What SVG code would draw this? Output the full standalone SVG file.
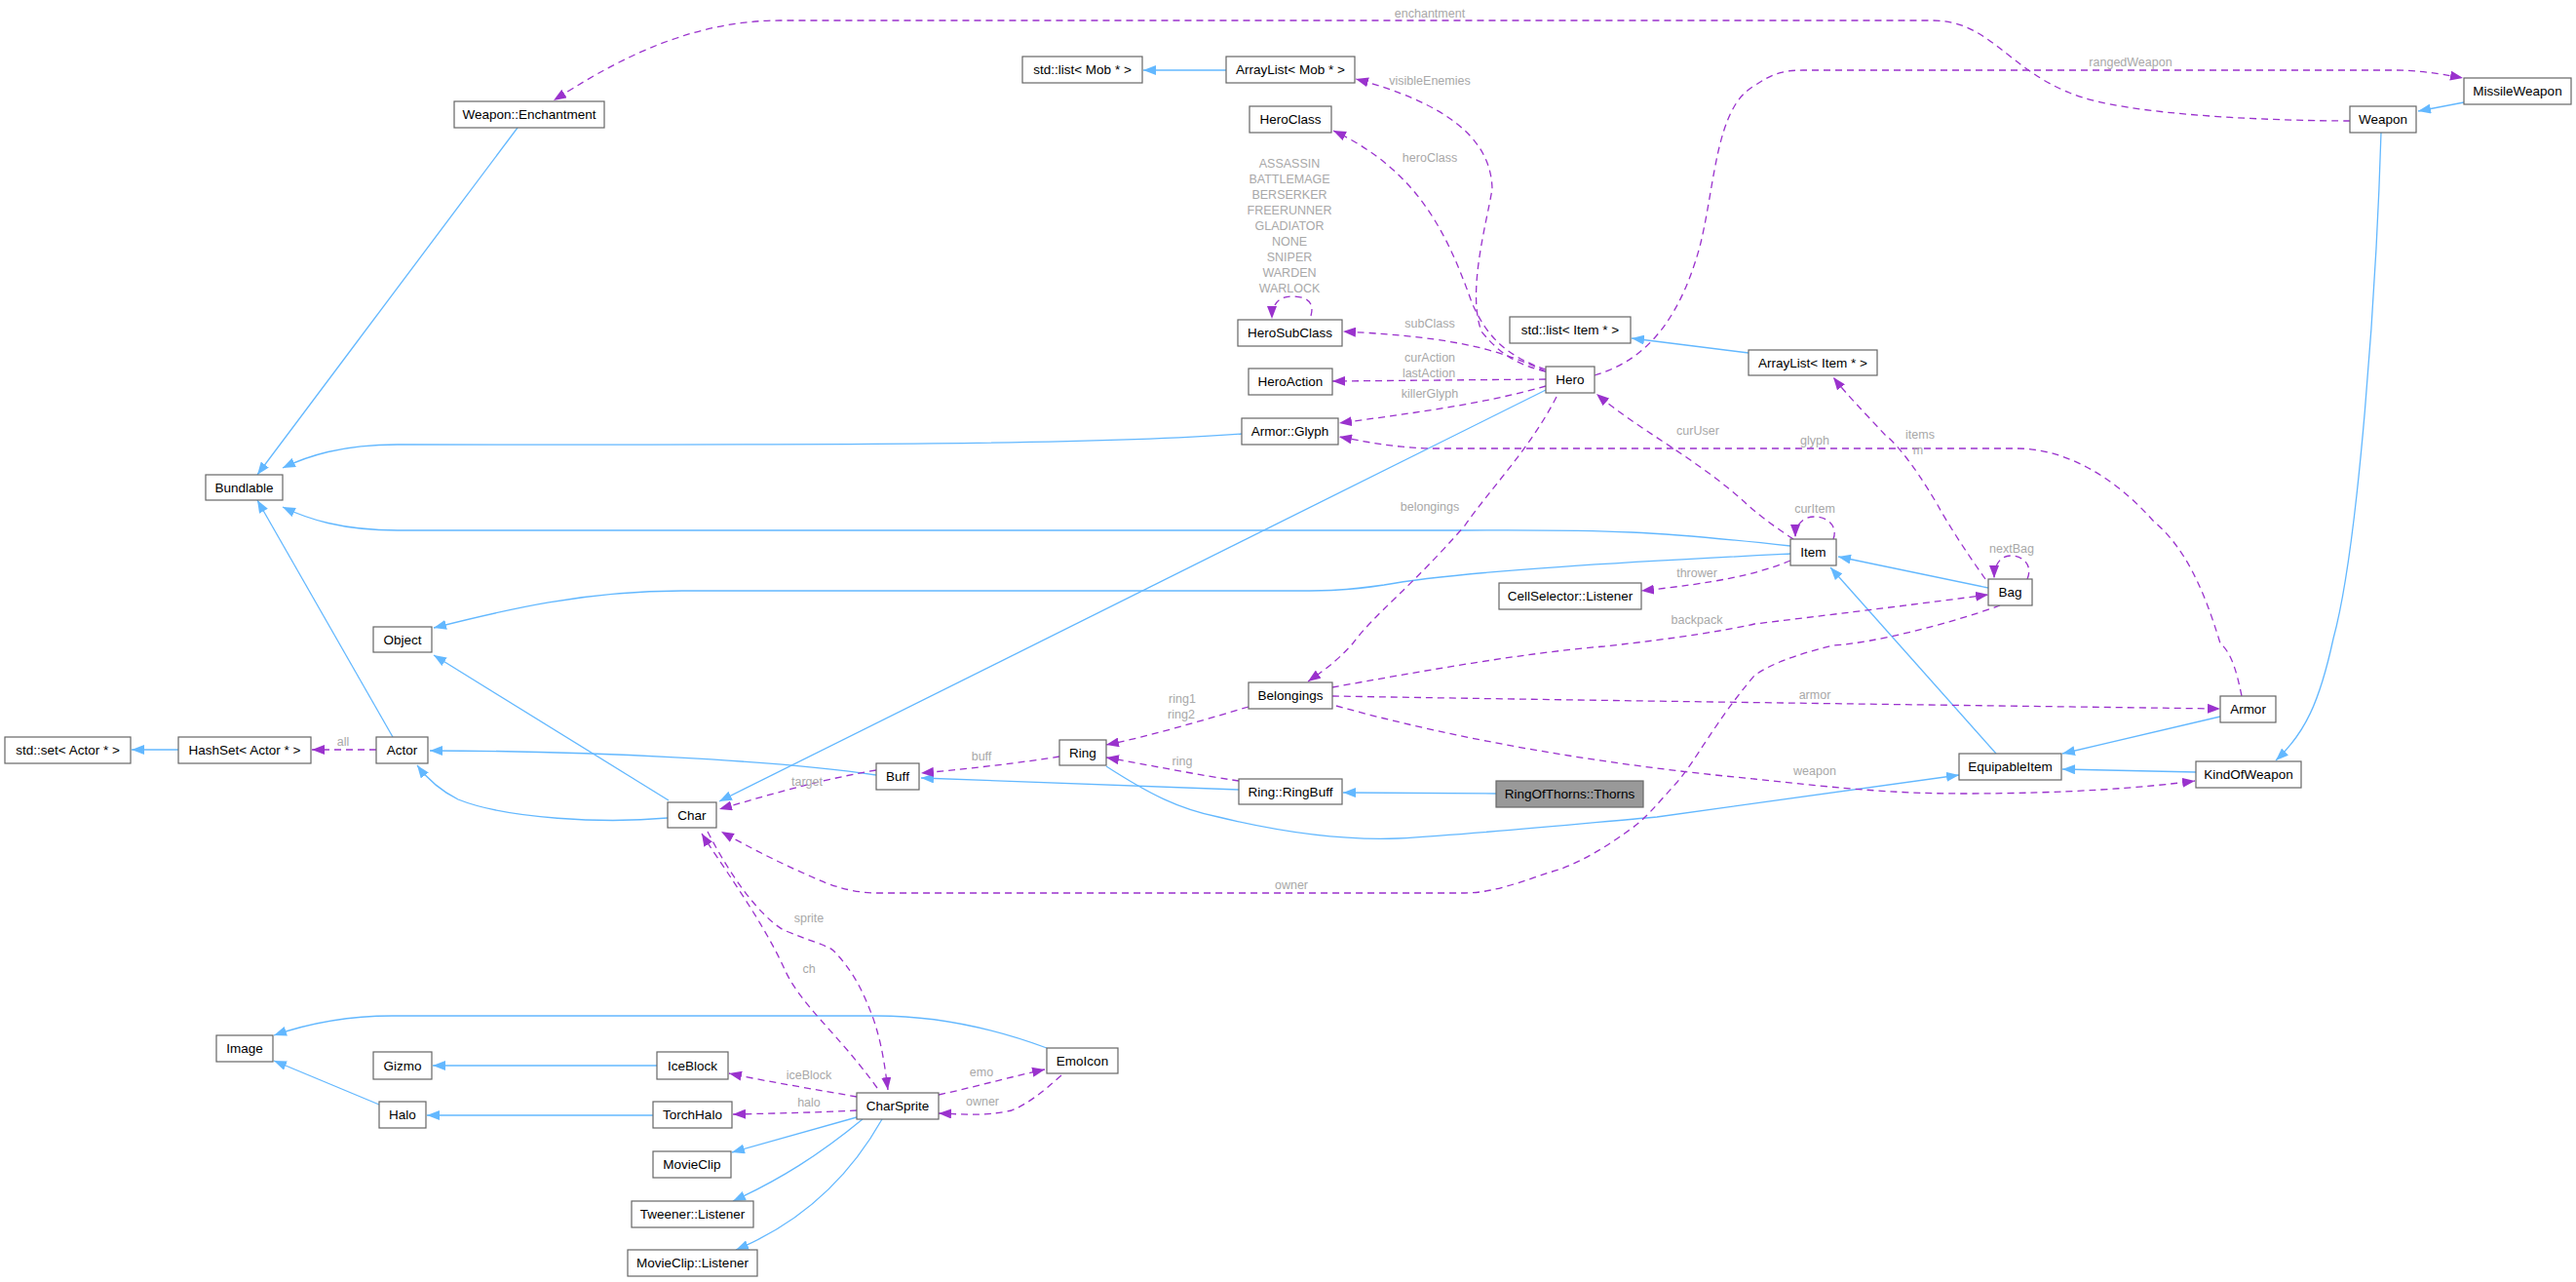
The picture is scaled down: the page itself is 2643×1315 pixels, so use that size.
<svg xmlns="http://www.w3.org/2000/svg" width="2643" height="1315" viewBox="0 0 2643 1315">
<style>
.n rect{fill:#fff;stroke:#666;stroke-width:1.2}
.n text{font-family:"Liberation Sans",Arial,sans-serif;font-size:13.5px;fill:#000;text-anchor:middle}
.b{fill:none;stroke:#63b8ff;stroke-width:1.3}
.p{fill:none;stroke:#9a32cd;stroke-width:1.3;stroke-dasharray:7,5}
.l{font-family:"Liberation Sans",Arial,sans-serif;font-size:12.5px;fill:#a8a8a8;text-anchor:middle}
</style>
<defs>
<marker id="ab" markerUnits="userSpaceOnUse" markerWidth="13" markerHeight="10" refX="13" refY="5" orient="auto"><path d="M0,0 L13,5 L0,10 z" fill="#63b8ff"/></marker>
<marker id="ap" markerUnits="userSpaceOnUse" markerWidth="13" markerHeight="10" refX="13" refY="5" orient="auto"><path d="M0,0 L13,5 L0,10 z" fill="#9a32cd"/></marker>
</defs>
<rect width="2643" height="1315" fill="#fff"/>
<g id="connectors">
<path class="b" marker-end="url(#ab)" d="M531,131 L264,487"/>
<path class="b" marker-end="url(#ab)" d="M1274,445 C1100,458 750,456 408,456 C350,456 315,468 290,480"/>
<path class="b" marker-end="url(#ab)" d="M1837,560 C1700,545 1650,543 1500,544 L408,544 C350,544 315,532 290,520"/>
<path class="b" marker-end="url(#ab)" d="M403,756 L264,513"/>
<path class="b" marker-end="url(#ab)" d="M1837,568 C1700,575 1500,585 1420,600 C1380,606 1360,606 1320,606 L700,606 C600,606 520,625 445,644"/>
<path class="b" marker-end="url(#ab)" d="M686,821 L445,672"/>
<path class="b" marker-end="url(#ab)" d="M1586,400 L738,822"/>
<path class="b" marker-end="url(#ab)" d="M899,795 C800,780 600,770 441,770"/>
<path class="b" marker-end="url(#ab)" d="M685,839 C620,845 520,840 470,820 C450,810 437,797 428,785"/>
<path class="b" marker-end="url(#ab)" d="M183,769 L135,769"/>
<path class="b" marker-end="url(#ab)" d="M1258,72 L1173,72"/>
<path class="b" marker-end="url(#ab)" d="M1794,362 L1674,347"/>
<path class="b" marker-end="url(#ab)" d="M2528,105 L2481,114"/>
<path class="b" marker-end="url(#ab)" d="M2443,136 C2438,300 2420,560 2394,655 C2380,720 2365,752 2335,780"/>
<path class="b" marker-end="url(#ab)" d="M2040,603 L1886,571"/>
<path class="b" marker-end="url(#ab)" d="M2048,773 L1878,582"/>
<path class="b" marker-end="url(#ab)" d="M2278,735 L2116,773"/>
<path class="b" marker-end="url(#ab)" d="M2253,792 L2116,789"/>
<path class="b" marker-end="url(#ab)" d="M1135,786 C1180,815 1210,830 1250,838 C1320,855 1380,862 1434,860 C1520,855 1620,845 1700,838 C1800,825 1900,810 2010,795"/>
<path class="b" marker-end="url(#ab)" d="M1271,810 L945,798"/>
<path class="b" marker-end="url(#ab)" d="M1535,814 L1378,813"/>
<path class="b" marker-end="url(#ab)" d="M1074,1075 C1020,1055 960,1042 900,1042 L402,1042 C350,1042 310,1052 281,1062"/>
<path class="b" marker-end="url(#ab)" d="M674,1093 L444,1093"/>
<path class="b" marker-end="url(#ab)" d="M670,1144 L438,1144"/>
<path class="b" marker-end="url(#ab)" d="M389,1133 L281,1088"/>
<path class="b" marker-end="url(#ab)" d="M879,1146 L751,1182"/>
<path class="b" marker-end="url(#ab)" d="M885,1148 C840,1185 800,1210 752,1232"/>
<path class="b" marker-end="url(#ab)" d="M905,1148 C870,1210 820,1255 755,1282"/>
<path class="p" marker-end="url(#ap)" d="M2411,124 C2350,124 2180,120 2123,95 C2060,70 2040,21 1983,21 L800,21 C700,21 620,70 568,103"/>
<path class="p" marker-end="url(#ap)" d="M1636,385 C1680,372 1720,340 1744,253 C1760,190 1760,110 1800,88 C1815,78 1825,72 1850,72 L2456,72 C2480,72 2500,75 2527,80"/>
<path class="p" marker-end="url(#ap)" d="M1586,381 C1560,375 1540,365 1520,340 C1505,300 1525,230 1531,194 C1530,140 1480,105 1391,81"/>
<path class="p" marker-end="url(#ap)" d="M1586,379 C1545,365 1525,345 1510,310 C1485,240 1455,175 1368,134"/>
<path class="p" marker-end="url(#ap)" d="M1586,381 C1540,360 1500,346 1378,340"/>
<path class="p" marker-end="url(#ap)" d="M1345,324 C1350,306 1335,304 1325,304 C1312,304 1305,312 1305,327"/>
<path class="p" marker-end="url(#ap)" d="M1586,389 L1367,391"/>
<path class="p" marker-end="url(#ap)" d="M1586,396 C1520,415 1440,425 1374,434"/>
<path class="p" marker-end="url(#ap)" d="M2300,714 C2295,690 2290,670 2278,660 C2260,600 2240,560 2209,534 C2170,490 2120,460 2069,460 L1474,460 C1440,460 1410,455 1374,448"/>
<path class="p" marker-end="url(#ap)" d="M1597,407 C1570,460 1530,500 1503,539 C1450,600 1410,630 1388,660 C1370,680 1355,690 1342,699"/>
<path class="p" marker-end="url(#ap)" d="M1840,553 C1820,540 1800,525 1790,515 C1740,470 1680,440 1638,404"/>
<path class="p" marker-end="url(#ap)" d="M1881,553 C1886,540 1875,530 1862,530 C1850,530 1842,538 1842,551"/>
<path class="p" marker-end="url(#ap)" d="M1837,575 C1800,590 1760,598 1684,606"/>
<path class="p" marker-end="url(#ap)" d="M2037,594 C2020,570 2000,540 1988,518 C1960,470 1940,450 1934,446 C1910,420 1895,405 1881,387"/>
<path class="p" marker-end="url(#ap)" d="M2080,594 C2086,580 2076,570 2063,570 C2052,570 2046,580 2046,593"/>
<path class="p" marker-end="url(#ap)" d="M1367,705 C1450,690 1560,670 1646,663 C1720,655 1780,645 1800,640 C1900,628 1980,618 2040,610"/>
<path class="p" marker-end="url(#ap)" d="M2052,621 C2000,640 1920,660 1881,662 C1840,672 1815,682 1800,693 C1760,740 1740,780 1721,802 C1700,825 1690,838 1675,849 C1640,875 1610,890 1589,895 C1560,905 1530,916 1503,916 L900,916 C870,916 845,905 832,899 C800,885 770,870 740,853"/>
<path class="p" marker-end="url(#ap)" d="M1281,725 C1230,740 1180,755 1135,764"/>
<path class="p" marker-end="url(#ap)" d="M1087,776 C1050,782 1000,788 945,793"/>
<path class="p" marker-end="url(#ap)" d="M1271,801 C1230,795 1180,785 1135,777"/>
<path class="p" marker-end="url(#ap)" d="M1367,714 C1600,718 1900,722 2278,727"/>
<path class="p" marker-end="url(#ap)" d="M1371,724 C1500,760 1650,785 1800,799 C1900,810 1950,814 2015,814 C2120,814 2200,808 2252,801"/>
<path class="p" marker-end="url(#ap)" d="M899,790 C840,800 790,815 738,830"/>
<path class="p" marker-end="url(#ap)" d="M900,1116 C860,1060 820,1030 804,992 C780,940 735,880 720,855"/>
<path class="p" marker-end="url(#ap)" d="M726,853 C750,900 780,940 804,954 C830,965 850,970 855,975 C880,1000 890,1030 895,1042 C905,1070 908,1095 911,1118"/>
<path class="p" marker-end="url(#ap)" d="M879,1125 C840,1118 790,1110 748,1101"/>
<path class="p" marker-end="url(#ap)" d="M879,1139 C840,1141 800,1142 752,1143"/>
<path class="p" marker-end="url(#ap)" d="M963,1123 C1000,1115 1035,1105 1072,1097"/>
<path class="p" marker-end="url(#ap)" d="M1089,1103 C1070,1120 1055,1132 1038,1139 C1010,1145 990,1143 963,1142"/>
<path class="p" marker-end="url(#ap)" d="M386,769 L320,769"/>
</g>
<g id="labels">
<text class="l" x="1467" y="18">enchantment</text>
<text class="l" x="2186" y="68">rangedWeapon</text>
<text class="l" x="1467" y="87">visibleEnemies</text>
<text class="l" x="1467" y="166">heroClass</text>
<text class="l" x="1323" y="172">ASSASSIN</text>
<text class="l" x="1323" y="188">BATTLEMAGE</text>
<text class="l" x="1323" y="204">BERSERKER</text>
<text class="l" x="1323" y="220">FREERUNNER</text>
<text class="l" x="1323" y="236">GLADIATOR</text>
<text class="l" x="1323" y="252">NONE</text>
<text class="l" x="1323" y="268">SNIPER</text>
<text class="l" x="1323" y="284">WARDEN</text>
<text class="l" x="1323" y="300">WARLOCK</text>
<text class="l" x="1467" y="336">subClass</text>
<text class="l" x="1467" y="371">curAction</text>
<text class="l" x="1466" y="387">lastAction</text>
<text class="l" x="1467" y="408">killerGlyph</text>
<text class="l" x="1742" y="446">curUser</text>
<text class="l" x="1862" y="456">glyph</text>
<text class="l" x="1970" y="450">items</text>
<text class="l" x="1968" y="466">m</text>
<text class="l" x="1467" y="524">belongings</text>
<text class="l" x="1862" y="526">curItem</text>
<text class="l" x="2064" y="567">nextBag</text>
<text class="l" x="1741" y="592">thrower</text>
<text class="l" x="1741" y="640">backpack</text>
<text class="l" x="1862" y="717">armor</text>
<text class="l" x="1213" y="721">ring1</text>
<text class="l" x="1212" y="737">ring2</text>
<text class="l" x="352" y="765">all</text>
<text class="l" x="1007" y="780">buff</text>
<text class="l" x="1213" y="785">ring</text>
<text class="l" x="1862" y="795">weapon</text>
<text class="l" x="828" y="806">target</text>
<text class="l" x="1325" y="912">owner</text>
<text class="l" x="830" y="946">sprite</text>
<text class="l" x="830" y="998">ch</text>
<text class="l" x="1007" y="1104">emo</text>
<text class="l" x="830" y="1107">iceBlock</text>
<text class="l" x="830" y="1135">halo</text>
<text class="l" x="1008" y="1134">owner</text>
</g>
<g id="n_enchant" class="n"><rect x="466" y="104" width="154" height="27"/><text x="543" y="122">Weapon::Enchantment</text></g>
<g id="n_bundlable" class="n"><rect x="211" y="487" width="79" height="26"/><text x="250.5" y="505">Bundlable</text></g>
<g id="n_object" class="n"><rect x="383" y="643" width="60" height="26"/><text x="413" y="661">Object</text></g>
<g id="n_listmob" class="n"><rect x="1049" y="58" width="123" height="27"/><text x="1110.5" y="76">std::list&lt; Mob * &gt;</text></g>
<g id="n_arraymob" class="n"><rect x="1258" y="58" width="132" height="27"/><text x="1324" y="76">ArrayList&lt; Mob * &gt;</text></g>
<g id="n_heroclass" class="n"><rect x="1282" y="109" width="84" height="27"/><text x="1324" y="127">HeroClass</text></g>
<g id="n_herosub" class="n"><rect x="1270" y="328" width="107" height="27"/><text x="1323.5" y="346">HeroSubClass</text></g>
<g id="n_heroaction" class="n"><rect x="1281" y="378" width="86" height="27"/><text x="1324" y="396">HeroAction</text></g>
<g id="n_glyph" class="n"><rect x="1274" y="429" width="99" height="27"/><text x="1323.5" y="447">Armor::Glyph</text></g>
<g id="n_hero" class="n"><rect x="1586" y="376" width="50" height="27"/><text x="1611" y="394">Hero</text></g>
<g id="n_listitem" class="n"><rect x="1549" y="325" width="124" height="27"/><text x="1611" y="343">std::list&lt; Item * &gt;</text></g>
<g id="n_arrayitem" class="n"><rect x="1794" y="359" width="132" height="26"/><text x="1860" y="377">ArrayList&lt; Item * &gt;</text></g>
<g id="n_cellsel" class="n"><rect x="1538" y="598" width="146" height="27"/><text x="1611" y="616">CellSelector::Listener</text></g>
<g id="n_missile" class="n"><rect x="2528" y="80" width="110" height="27"/><text x="2583" y="98">MissileWeapon</text></g>
<g id="n_weapon" class="n"><rect x="2411" y="109" width="68" height="27"/><text x="2445" y="127">Weapon</text></g>
<g id="n_item" class="n"><rect x="1837" y="553" width="47" height="27"/><text x="1860.5" y="571">Item</text></g>
<g id="n_bag" class="n"><rect x="2040" y="594" width="45" height="27"/><text x="2062.5" y="612">Bag</text></g>
<g id="n_stdset" class="n"><rect x="5" y="756" width="129" height="27"/><text x="69.5" y="774">std::set&lt; Actor * &gt;</text></g>
<g id="n_hashset" class="n"><rect x="183" y="756" width="136" height="27"/><text x="251" y="774">HashSet&lt; Actor * &gt;</text></g>
<g id="n_actor" class="n"><rect x="386" y="756" width="53" height="27"/><text x="412.5" y="774">Actor</text></g>
<g id="n_char" class="n"><rect x="685" y="823" width="50" height="26"/><text x="710" y="841">Char</text></g>
<g id="n_belongings" class="n"><rect x="1281" y="700" width="86" height="27"/><text x="1324" y="718">Belongings</text></g>
<g id="n_ring" class="n"><rect x="1087" y="759" width="48" height="26"/><text x="1111" y="777">Ring</text></g>
<g id="n_buff" class="n"><rect x="899" y="783" width="44" height="27"/><text x="921" y="801">Buff</text></g>
<g id="n_ringbuff" class="n"><rect x="1271" y="799" width="106" height="26"/><text x="1324" y="817">Ring::RingBuff</text></g>
<g id="n_thorns" class="n"><rect x="1535" y="801" width="151" height="27" style="fill:#999"/><text x="1610.5" y="819">RingOfThorns::Thorns</text></g>
<g id="n_armor" class="n"><rect x="2278" y="714" width="57" height="27"/><text x="2306.5" y="732">Armor</text></g>
<g id="n_equip" class="n"><rect x="2010" y="773" width="105" height="27"/><text x="2062.5" y="791">EquipableItem</text></g>
<g id="n_kind" class="n"><rect x="2253" y="781" width="108" height="27"/><text x="2307" y="799">KindOfWeapon</text></g>
<g id="n_image" class="n"><rect x="222" y="1062" width="58" height="27"/><text x="251" y="1080">Image</text></g>
<g id="n_gizmo" class="n"><rect x="383" y="1079" width="60" height="28"/><text x="413" y="1098">Gizmo</text></g>
<g id="n_iceblock" class="n"><rect x="674" y="1079" width="73" height="28"/><text x="710.5" y="1098">IceBlock</text></g>
<g id="n_halo" class="n"><rect x="389" y="1130" width="48" height="27"/><text x="413" y="1148">Halo</text></g>
<g id="n_torchhalo" class="n"><rect x="670" y="1130" width="81" height="27"/><text x="710.5" y="1148">TorchHalo</text></g>
<g id="n_charsprite" class="n"><rect x="879" y="1121" width="84" height="27"/><text x="921" y="1139">CharSprite</text></g>
<g id="n_emoicon" class="n"><rect x="1074" y="1075" width="73" height="26"/><text x="1110.5" y="1093">EmoIcon</text></g>
<g id="n_movieclip" class="n"><rect x="670" y="1181" width="80" height="27"/><text x="710" y="1199">MovieClip</text></g>
<g id="n_tweener" class="n"><rect x="648" y="1232" width="125" height="27"/><text x="710.5" y="1250">Tweener::Listener</text></g>
<g id="n_mclistener" class="n"><rect x="644" y="1282" width="133" height="27"/><text x="710.5" y="1300">MovieClip::Listener</text></g>
</svg>
